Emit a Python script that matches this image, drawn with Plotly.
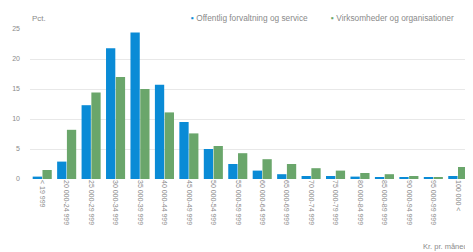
import plotly.graph_objects as go

categories = ["< 19 999", "20 000-24 999", "25 000-29 999", "30 000-34 999", "35 000-39 999",
              "40 000-44 999", "45 000-49 999", "50 000-54 999", "55 000-59 999", "60 000-64 999",
              "65 000-69 999", "70 000-74 999", "75 000-79 999", "80 000-84 999", "85 000-89 999",
              "90 000-94 999", "95 000-99 999", "100 000 <"]
offentlig = [0.4, 2.9, 12.3, 21.8, 24.4, 15.7, 9.5, 5.0, 2.5, 1.4, 0.8, 0.5, 0.5, 0.4, 0.3, 0.3, 0.2, 0.5]
virksomheder = [1.5, 8.2, 14.4, 17.0, 15.0, 11.1, 7.6, 5.5, 4.3, 3.3, 2.5, 1.8, 1.4, 1.0, 0.8, 0.5, 0.3, 2.0]
series_names = ["Offentlig forvaltning og service", "Virksomheder og organisationer"]
y_ticks = [0, 5, 10, 15, 20, 25]

BLUE = "#0a8bd6"
GREEN = "#6aa66b"
TXT = "#8a8a8a"
FONT = "Liberation Sans, Arial, sans-serif"

fig = go.Figure()
fig.add_trace(go.Bar(x=categories, y=offentlig, name=series_names[0], marker_color=BLUE,
                     marker_line_width=0, showlegend=False))
fig.add_trace(go.Bar(x=categories, y=virksomheder, name=series_names[1], marker_color=GREEN,
                     marker_line_width=0, showlegend=False))

fig.update_layout(
    width=465, height=244,
    margin=dict(l=22, r=3, t=21, b=73),
    paper_bgcolor="white", plot_bgcolor="white",
    barmode="group", bargap=0.2, bargroupgap=0.05,
    font=dict(family=FONT, size=7, color=TXT),
    xaxis=dict(tickangle=90, showgrid=False, showline=False, ticks="",
               tickfont=dict(size=7, color=TXT), automargin=False),
    yaxis=dict(range=[0, 25], tickvals=y_ticks, showgrid=True, gridcolor="#e8e8e8",
               gridwidth=1, zeroline=False, showline=False, ticks="",
               ticklabelstandoff=9, tickfont=dict(size=7, color=TXT), automargin=False),
    annotations=[
        dict(text="Pct.", xref="paper", yref="paper", x=0.0, y=1.0, yshift=11,
             xanchor="left", yanchor="middle", showarrow=False,
             font=dict(size=8, color=TXT)),
        dict(text="Kr. pr. måned", xref="paper", yref="paper", x=1.0, y=0, yshift=-67,
             xanchor="right", yanchor="middle", showarrow=False,
             font=dict(size=7.5, color=TXT)),
        dict(text=f"<span style='color:{BLUE}'>▪</span> {series_names[0]}", xref="paper", yref="paper",
             x=0.362, y=1.0, yshift=11, xanchor="left", yanchor="middle", showarrow=False,
             font=dict(size=8.3, color=TXT)),
        dict(text=f"<span style='color:{GREEN}'>▪</span> {series_names[1]}", xref="paper", yref="paper",
             x=0.68, y=1.0, yshift=11, xanchor="left", yanchor="middle", showarrow=False,
             font=dict(size=8.3, color=TXT)),
    ],
)

fig.write_html("out.html")
